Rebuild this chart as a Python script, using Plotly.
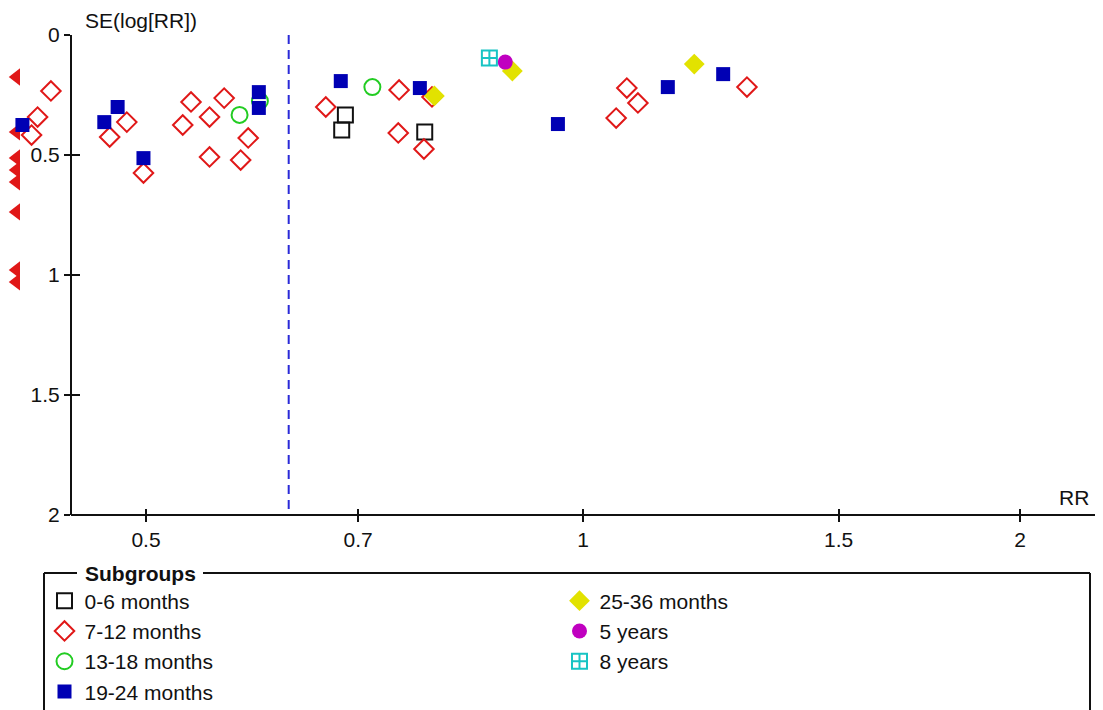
import math
import plotly.graph_objects as go

# ---- data (RR, SE(log RR)) per subgroup ----
m0_6_rr = [0.686, 0.682, 0.778]
m0_6_se = [0.333, 0.396, 0.404]

m7_12_rr = [0.430, 0.421, 0.417, 0.485, 0.472, 0.498, 0.537, 0.566, 0.530, 0.553,
            0.588, 0.553, 0.581, 0.665, 0.747, 0.746, 0.777, 0.787, 1.054, 1.072,
            1.091, 1.297]
m7_12_se = [0.233, 0.342, 0.417, 0.363, 0.425, 0.575, 0.279, 0.263, 0.375, 0.342,
            0.429, 0.508, 0.521, 0.300, 0.229, 0.408, 0.475, 0.258, 0.346, 0.221,
            0.283, 0.217]
# studies whose RR lies off the left of the scale (drawn as arrows)
m7_12_off_rr = [0.407, 0.407, 0.407, 0.407, 0.407, 0.407, 0.407, 0.407]
m7_12_off_se = [0.175, 0.404, 0.512, 0.562, 0.612, 0.737, 0.979, 1.029]

m13_18_rr = [0.580, 0.599, 0.716]
m13_18_se = [0.333, 0.275, 0.217]

m19_24_rr = [0.411, 0.478, 0.468, 0.498, 0.598, 0.598, 0.681, 0.772, 0.961, 1.144, 1.249]
m19_24_se = [0.375, 0.300, 0.363, 0.513, 0.238, 0.304, 0.192, 0.221, 0.371, 0.217, 0.163]

m25_36_rr = [0.790, 0.894, 1.193]
m25_36_se = [0.254, 0.150, 0.121]

y5_rr = [0.884]
y5_se = [0.113]

y8_rr = [0.862]
y8_se = [0.096]

pooled_rr = 0.627
se_range = [0, 2]

x_ticks = [0.5, 0.7, 1, 1.5, 2]
x_ticktext = ["0.5", "0.7", "1", "1.5", "2"]
y_ticks = [0, 0.5, 1, 1.5, 2]
y_ticktext = ["0", "0.5", "1", "1.5", "2"]

FONT = "Liberation Sans, Arial, sans-serif"
RED = "#e01818"
BLUE = "#0000b4"
INK = "#111111"

# ---- geometry (pixels, in screenshot coordinates; page adds an 8px offset) ----
OFF = 8
W, H = 1103, 710
PLOT_L, PLOT_R, PLOT_T, PLOT_B = 8, 1095, 35, 515
ML = PLOT_L - OFF
MR = W - (PLOT_R - OFF)
MT = PLOT_T - OFF
MB = H - (PLOT_B - OFF)
PW = PLOT_R - PLOT_L
PH = PLOT_B - PLOT_T
AXIS_PX = 71  # where the SE axis sits


def px_x(p):
    return (p - PLOT_L) / PW


def px_y(p):
    return (PLOT_B - p) / PH


fig = go.Figure()


def add(rr, se, name, symbol, size, color, line_color, line_w, legend, group, show=True):
    fig.add_trace(go.Scatter(
        x=rr, y=se, mode="markers", name=name, legend=legend, legendgroup=group,
        showlegend=show, cliponaxis=False,
        marker=dict(symbol=symbol, size=size, color=color,
                    line=dict(color=line_color, width=line_w))))


# pooled estimate line
fig.add_trace(go.Scatter(x=[pooled_rr, pooled_rr], y=se_range, mode="lines",
                         showlegend=False, hoverinfo="skip",
                         line=dict(color="#2a2ad8", width=2, dash="9px,6px")))

add(m7_12_off_rr, m7_12_off_se, "7-12 off", "triangle-left", 15, RED, RED, 0, "legend", "g2", show=False)
add(m0_6_rr, m0_6_se, "0-6 months", "square-open", 15, INK, INK, 2, "legend", "g1")
add(m7_12_rr, m7_12_se, "7-12 months", "diamond-open", 15, RED, RED, 2, "legend", "g2")
add(m13_18_rr, m13_18_se, "13-18 months", "circle-open", 16, "#22cc22", "#22cc22", 2, "legend", "g3")
add(m19_24_rr, m19_24_se, "19-24 months", "square", 14, BLUE, BLUE, 0, "legend", "g4")
add(m25_36_rr, m25_36_se, "25-36 months", "diamond", 16, "#e2e200", "#e2e200", 0, "legend2", "g5")
add(y5_rr, y5_se, "5 years", "circle", 15, "#c000c0", "#c000c0", 0, "legend2", "g6")
add(y8_rr, y8_se, "8 years", "square-cross-open", 15, "#18c4c4", "#18c4c4", 2, "legend2", "g7")

# x range: plot area extends left of the SE axis so off-scale arrows show
ln_per_px = math.log(2) / 437.0
rr_left = math.exp((PLOT_L - 583) * ln_per_px)
rr_right = math.exp((PLOT_R - 583) * ln_per_px)
xr = [math.log10(rr_left), math.log10(rr_right)]

axpos = px_x(AXIS_PX)

fig.update_layout(
    width=W, height=H,
    margin=dict(l=ML, r=MR, t=MT, b=MB, autoexpand=False),
    paper_bgcolor="white", plot_bgcolor="white",
    font=dict(family=FONT, size=20, color=INK),
    xaxis=dict(type="log", range=xr, tickvals=x_ticks, ticktext=x_ticktext,
               showgrid=False, zeroline=False, showline=False,
               ticks="outside", ticklen=6, tickwidth=2, tickcolor=INK,
               tickfont=dict(size=21)),
    yaxis=dict(range=[2, 0], tickvals=y_ticks, ticktext=y_ticktext,
               anchor="free", position=axpos,
               showgrid=False, zeroline=False, showline=True, linecolor=INK,
               linewidth=2, ticks="outside", ticklen=6, tickwidth=2, tickcolor=INK,
               tickfont=dict(size=21)),
    xaxis2=dict(type="log", range=xr, overlaying="x", anchor="y", side="bottom",
                tickvals=x_ticks, showticklabels=False, showgrid=False, zeroline=False,
                showline=False, ticks="inside", ticklen=6, tickwidth=2, tickcolor=INK),
    yaxis2=dict(range=[2, 0], overlaying="y", anchor="free", position=axpos, side="left",
                tickvals=y_ticks, showticklabels=False, showgrid=False, zeroline=False,
                showline=False, ticks="inside", ticklen=8, tickwidth=2, tickcolor=INK),
    legend=dict(x=px_x(44.5), y=px_y(580.5), xanchor="left", yanchor="top",
                font=dict(size=21, family=FONT, color=INK), traceorder="grouped",
                tracegroupgap=0, bgcolor="rgba(0,0,0,0)", itemsizing="trace"),
    legend2=dict(x=px_x(559.5), y=px_y(580.5), xanchor="left", yanchor="top",
                 font=dict(size=21, family=FONT, color=INK), traceorder="grouped",
                 tracegroupgap=0, bgcolor="rgba(0,0,0,0)", itemsizing="trace"),
    annotations=[
        dict(text="SE(log[RR])", xref="paper", yref="paper", x=px_x(83), y=px_y(7),
             xanchor="left", yanchor="top", showarrow=False, font=dict(size=21)),
        dict(text="RR", xref="paper", yref="paper", x=px_x(1091), y=px_y(497),
             xanchor="right", yanchor="middle", showarrow=False, font=dict(size=21)),
        dict(text="<b>Subgroups</b>", xref="paper", yref="paper", x=px_x(83),
             y=px_y(573), xanchor="left", yanchor="middle", showarrow=False,
             font=dict(size=21)),
    ],
)

# dummy trace to activate overlay axes
fig.add_trace(go.Scatter(x=[1], y=[1], xaxis="x2", yaxis="y2", mode="markers",
                         marker=dict(opacity=0), showlegend=False, hoverinfo="skip"))

# RR axis line (starts at SE axis)
fig.add_shape(type="line", xref="paper", yref="paper", x0=axpos, x1=1.0, y0=0, y1=0,
              line=dict(color=INK, width=2))

# legend frame (fieldset style)
frame = dict(color=INK, width=2)
for (x0, y0, x1, y1) in [(44, 573, 77, 573), (203, 573, 1090, 573),
                         (44, 573, 44, 720), (1090, 573, 1090, 720)]:
    fig.add_shape(type="line", xref="paper", yref="paper",
                  x0=px_x(x0), y0=px_y(y0), x1=px_x(x1), y1=px_y(y1),
                  line=frame)

fig.write_html("out.html")
